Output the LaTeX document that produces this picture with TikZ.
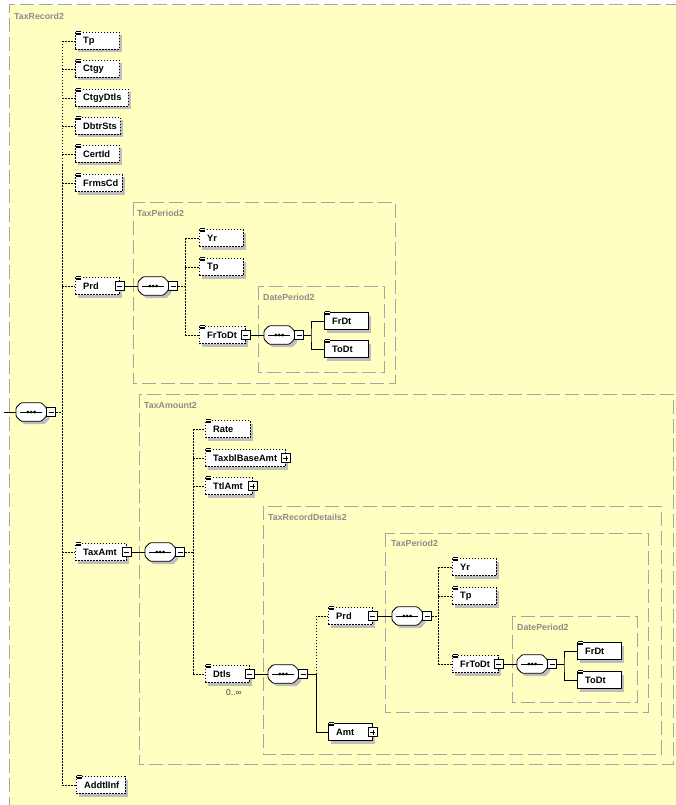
\documentclass[tikz,border=0pt]{standalone}
\usepackage{fontspec}
\setmainfont{Liberation Sans}
\usetikzlibrary{shadows,calc}
\definecolor{bgy}{RGB}{255,255,194}
\definecolor{framec}{RGB}{165,165,165}
\definecolor{labelc}{RGB}{140,140,140}
\definecolor{shadowc}{RGB}{190,190,190}
\tikzset{
 frame/.style={draw=framec, line width=1pt, dash pattern=on 14pt off 5pt},
 flabel/.style={text=labelc, font=\bfseries\fontsize{8.8}{10}\selectfont, anchor=west, inner sep=0},
 ebox/.style={draw=black, line width=0.8pt, dash pattern=on 1.8pt off 1.2pt, fill=white, minimum height=17pt, inner sep=0, anchor=west, drop shadow={shadow xshift=3pt, shadow yshift=-3pt, fill=shadowc, opacity=1}},
 reqbox/.style={solid},
 etext/.style={font=\bfseries\fontsize{9.3}{11}\selectfont, inner sep=0, anchor=west},
 expbox/.style={draw=black, fill=white, line width=0.6pt, minimum size=9pt, inner sep=0},
 minusx/.style={expbox, path picture={\draw[line width=0.6pt] ([xshift=2pt]path picture bounding box.west) -- ([xshift=-2pt]path picture bounding box.east);}},
 plusx/.style={expbox, path picture={\draw[line width=0.6pt] ([xshift=2pt]path picture bounding box.west) -- ([xshift=-2pt]path picture bounding box.east) ([yshift=2pt]path picture bounding box.south) -- ([yshift=-2pt]path picture bounding box.north);}},
 dotc/.style={line width=0.7pt, dash pattern=on 1.5pt off 1.5pt},
 solc/.style={line width=0.8pt},
 compbox/.style={minimum width=30pt, minimum height=18pt, inner sep=0, anchor=west},
}
\newcommand\elem[6][]{%
 \node[ebox,#1, minimum width=#5pt] (#2) at (#3,#4) {};
 \node[etext] (#2t) at ([xshift=8pt]#2.west) {#6};
 \fill[white] ([shift={(0.6pt,1.6pt)}]#2.north west) rectangle ([shift={(6.4pt,-3.4pt)}]#2.north west);
 \draw[line width=0.45pt] ([shift={(1pt,1pt)}]#2.north west) -- ++(5pt,0pt)
   ([shift={(1pt,-0.8pt)}]#2.north west) -- ++(5pt,0pt)
   ([shift={(1pt,-2.6pt)}]#2.north west) -- ++(5pt,0pt);
}
\newcommand\comp[3]{%
 \node[compbox] (#1) at (#2,#3) {};
 \begin{scope}[transform canvas={shift={(3pt,-3pt)}}]
  \fill[shadowc, rounded corners=1pt] ([xshift=5pt]#1.north west) -- ([xshift=-5pt]#1.north east) -- ([yshift=-5pt]#1.north east) -- ([yshift=5pt]#1.south east) -- ([xshift=-5pt]#1.south east) -- ([xshift=5pt]#1.south west) -- ([yshift=5pt]#1.south west) -- ([yshift=-5pt]#1.north west) -- cycle;
 \end{scope}
 \filldraw[fill=white, line width=0.8pt, rounded corners=1pt] ([xshift=5pt]#1.north west) -- ([xshift=-5pt]#1.north east) -- ([yshift=-5pt]#1.north east) -- ([yshift=5pt]#1.south east) -- ([xshift=-5pt]#1.south east) -- ([xshift=5pt]#1.south west) -- ([yshift=5pt]#1.south west) -- ([yshift=-5pt]#1.north west) -- cycle;
 \draw[line width=0.8pt] ([xshift=4pt]#1.west) -- ([xshift=-4pt]#1.east);
 \foreach \d in {-3.4,0,3.4} \fill ([xshift=\d pt]#1.center) circle (1.5pt);
 \node[minusx, anchor=west] (#1x) at (#1.east) {};
}
\begin{document}
\begin{tikzpicture}[x=1pt,y=-1pt]
\useasboundingbox (0,0) rectangle (676,805);
\fill[white] (0,0) rectangle (676,805);
\fill[bgy] (9,5) rectangle (700,830);
\draw[frame] (9,830) -- (9,5) -- (700,5);
\node[flabel] at (14,16) {TaxRecord2};
% frames
\draw[frame] (133,202) rectangle (395,383);
\node[flabel] at (137,213) {TaxPeriod2};
\draw[frame] (258,286) rectangle (384,372);
\node[flabel] at (263,297) {DatePeriod2};
\draw[frame] (139,394) rectangle (673,764);
\node[flabel] at (144,405) {TaxAmount2};
\draw[frame] (263,506) rectangle (661,754);
\node[flabel] at (268,517) {TaxRecordDetails2};
\draw[frame] (385,533) rectangle (648,712);
\node[flabel] at (391,543) {TaxPeriod2};
\draw[frame] (512,616) rectangle (637,702);
\node[flabel] at (517,627) {DatePeriod2};
% level 1
\comp{c0}{16}{412}
\elem{tp1}{75}{41}{44}{Tp}
\elem{ctgy}{75}{69}{44}{Ctgy}
\elem{ctgydtls}{75}{98}{53}{CtgyDtls}
\elem{dbtrsts}{75}{126}{45}{DbtrSts}
\elem{certid}{75}{154}{44}{CertId}
\elem{frmscd}{75}{183}{47}{FrmsCd}
\elem{prd1}{75}{286}{44}{Prd}
\node[minusx] (prd1x) at (prd1.east) {};
\elem{taxamt}{75}{552}{51}{TaxAmt}
\node[minusx] (taxamtx) at (taxamt.east) {};
\elem{addtlinf}{76}{785}{49}{AddtlInf}
\coordinate (rootin) at (4,412);
\coordinate (v0) at (62,412);
\draw[solc] (rootin) -- (c0.west);
\draw[dotc] (c0x.east) -- (v0);
\draw[dotc] (tp1.west -| v0) -- (addtlinf.west -| v0);
\foreach \n in {tp1,ctgy,ctgydtls,dbtrsts,certid,frmscd,prd1,taxamt,addtlinf}
  \draw[dotc] (\n.west -| v0) -- (\n.west);
% TaxPeriod2 (upper)
\comp{c1}{138}{286}
\elem{yr1}{199}{238}{44}{Yr}
\elem{tp2}{199}{267}{44}{Tp}
\elem{frtodt1}{199}{335}{46}{FrToDt}
\node[minusx] (frtodt1x) at (frtodt1.east) {};
\coordinate (v1) at (185,286);
\draw[solc] (prd1x.east) -- (c1.west);
\draw[dotc] (c1x.east) -- (v1);
\draw[dotc] (yr1.west -| v1) -- (frtodt1.west -| v1);
\foreach \n in {yr1,tp2,frtodt1} \draw[dotc] (\n.west -| v1) -- (\n.west);
% DatePeriod2 (upper)
\comp{c2}{264}{335}
\elem[reqbox]{frdt1}{324}{321}{44}{FrDt}
\elem[reqbox]{todt1}{324}{349}{44}{ToDt}
\coordinate (v2) at (311,335);
\draw[solc] (frtodt1x.east) -- (c2.west);
\draw[solc] (c2x.east) -- (v2);
\draw[solc] (frdt1.west) -| (v2) |- (todt1.west);
% TaxAmount2
\comp{c3}{145}{552}
\elem{rate}{205}{429}{45}{Rate}
\elem{taxbl}{205}{458}{80}{TaxblBaseAmt}
\node[plusx] (taxblx) at (taxbl.east) {};
\elem{ttlamt}{205}{486}{47}{TtlAmt}
\node[plusx] (ttlamtx) at (ttlamt.east) {};
\elem{dtls}{205}{674}{44}{Dtls}
\node[minusx] (dtlsx) at (dtls.east) {};
\node[inner sep=0, anchor=west, text=black!75, font=\fontsize{8.5}{10}\selectfont] (dtlsocc) at (226,693) {0..∞};
\coordinate (v3) at (193,552);
\draw[solc] (taxamtx.east) -- (c3.west);
\draw[dotc] (c3x.east) -- (v3);
\draw[dotc] (rate.west -| v3) -- (dtls.west -| v3);
\foreach \n in {rate,taxbl,ttlamt,dtls} \draw[dotc] (\n.west -| v3) -- (\n.west);
% TaxRecordDetails2
\comp{c4}{268}{674}
\elem{prd2}{328}{616}{44}{Prd}
\node[minusx] (prd2x) at (prd2.east) {};
\elem[reqbox]{amt}{328}{732}{44}{Amt}
\node[plusx] (amtx) at (amt.east) {};
\coordinate (v4) at (316,674);
\draw[solc] (dtlsx.east) -- (c4.west);
\draw[solc] (c4x.east) -- (v4);
\draw[dotc] (v4) |- (prd2.west);
\draw[solc] (v4) |- (amt.west);
% TaxPeriod2 (lower)
\comp{c5}{392}{616}
\elem{yr2}{452}{567}{44}{Yr}
\elem{tp3}{452}{596}{44}{Tp}
\elem{frtodt2}{452}{664}{46}{FrToDt}
\node[minusx] (frtodt2x) at (frtodt2.east) {};
\coordinate (v5) at (438,616);
\draw[solc] (prd2x.east) -- (c5.west);
\draw[dotc] (c5x.east) -- (v5);
\draw[dotc] (yr2.west -| v5) -- (frtodt2.west -| v5);
\foreach \n in {yr2,tp3,frtodt2} \draw[dotc] (\n.west -| v5) -- (\n.west);
% DatePeriod2 (lower)
\comp{c6}{517}{664}
\elem[reqbox]{frdt2}{577}{651}{44}{FrDt}
\elem[reqbox]{todt2}{577}{680}{44}{ToDt}
\coordinate (v6) at (564,664);
\draw[solc] (frtodt2x.east) -- (c6.west);
\draw[solc] (c6x.east) -- (v6);
\draw[solc] (frdt2.west) -| (v6) |- (todt2.west);
\end{tikzpicture}
\end{document}
